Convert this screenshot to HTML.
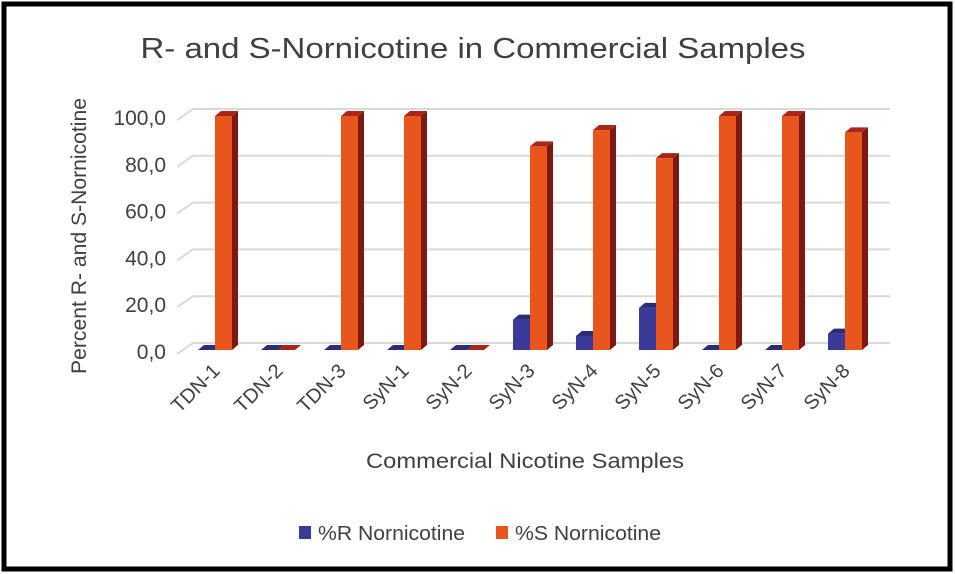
<!DOCTYPE html>
<html><head><meta charset="utf-8"><style>
html,body{margin:0;padding:0;background:#fff;}
svg{display:block;font-family:"Liberation Sans",sans-serif;}
</style></head><body>
<svg id="chart" width="955" height="574" viewBox="0 0 955 574">
<rect x="4" y="4" width="946" height="565" fill="#fff" stroke="#000" stroke-width="5"/>
<text x="473" y="58" text-anchor="middle" font-size="29" fill="#404040" textLength="665" lengthAdjust="spacingAndGlyphs">R- and S-Nornicotine in Commercial Samples</text>
<g id="grid"></g>
<g id="ylabels"></g>
<g id="bars"></g>
<g id="xlabels"></g>
<text transform="translate(86,236) rotate(-90)" text-anchor="middle" font-size="21" fill="#404040" textLength="276" lengthAdjust="spacingAndGlyphs">Percent R- and S-Nornicotine</text>
<text x="525" y="468" text-anchor="middle" font-size="21" fill="#404040" textLength="318" lengthAdjust="spacingAndGlyphs">Commercial Nicotine Samples</text>
<g>
<rect x="299" y="526" width="12" height="13" fill="#3b3a98"/>
<text x="318" y="540" font-size="20" fill="#404040" textLength="147" lengthAdjust="spacingAndGlyphs">%R Nornicotine</text>
<rect x="496" y="526" width="12" height="13" fill="#e8561e"/>
<text x="515" y="540" font-size="20" fill="#404040" textLength="146" lengthAdjust="spacingAndGlyphs">%S Nornicotine</text>
</g>
</svg>
<script>
const categories=["TDN-1","TDN-2","TDN-3","SyN-1","SyN-2","SyN-3","SyN-4","SyN-5","SyN-6","SyN-7","SyN-8"];
const rValues=[0,0,0,0,0,13,6,18,0,0,7];
const sValues=[100,0,100,100,0,87,94,82,100,100,93];
const yTicks=[0,20,40,60,80,100];
const yTickLabels=["0,0","20,0","40,0","60,0","80,0","100,0"];
const NS="http://www.w3.org/2000/svg";
function mk(tag,attrs,parent){const e=document.createElementNS(NS,tag);for(const k in attrs)e.setAttribute(k,attrs[k]);parent.appendChild(e);return e;}
const y0=350,yTop=116,ymax=100;
function yScale(v){return y0-(v/ymax)*(y0-yTop);}
function xScale(i){return 215+i*63;}
const dx=6,dy=5,bw=17;
const grid=document.getElementById('grid'),yl=document.getElementById('ylabels'),bars=document.getElementById('bars'),xl=document.getElementById('xlabels');
yTicks.forEach((t,i)=>{
  const y=yScale(t);
  const p=mk('polyline',{points:`${177},${y+4} ${193},${y-7} ${890},${y-7}`,fill:'none',stroke:'#d9d9d9','stroke-width':2},grid);
  
  
  const tx=mk('text',{x:166,y:y+9,'text-anchor':'end','font-size':21,fill:'#404040'},yl);
  tx.textContent=yTickLabels[i];
  
  
});
function bar(x,v,front,side,top,name){
  const yt=yScale(v),h=y0-yt;
  const g=mk('g',{},bars);
  
  
  mk('polygon',{points:`${x+bw},${yt} ${x+bw+dx},${yt-dy} ${x+bw+dx},${y0-dy} ${x+bw},${y0}`,fill:side},g);
  mk('polygon',{points:`${x},${yt} ${x+dx},${yt-dy} ${x+bw+dx},${yt-dy} ${x+bw},${yt}`,fill:top},g);
  mk('rect',{x:x,y:yt,width:bw,height:Math.max(h,0.01),fill:front},g);
}
categories.forEach((c,i)=>{
  const cx=xScale(i);
  bar(cx-bw,rValues[i],'#3b3a98','#26256b','#2d2c7a','bar-r-'+c.toLowerCase());
  bar(cx,sValues[i],'#e8561e','#7a1a12','#a8261a','bar-s-'+c.toLowerCase());
  const t=mk('text',{transform:`translate(${cx+6},${372}) rotate(-45)`,'text-anchor':'end','font-size':20,fill:'#404040'},xl);
  t.textContent=c;
  
  
});
</script>
</body></html>
